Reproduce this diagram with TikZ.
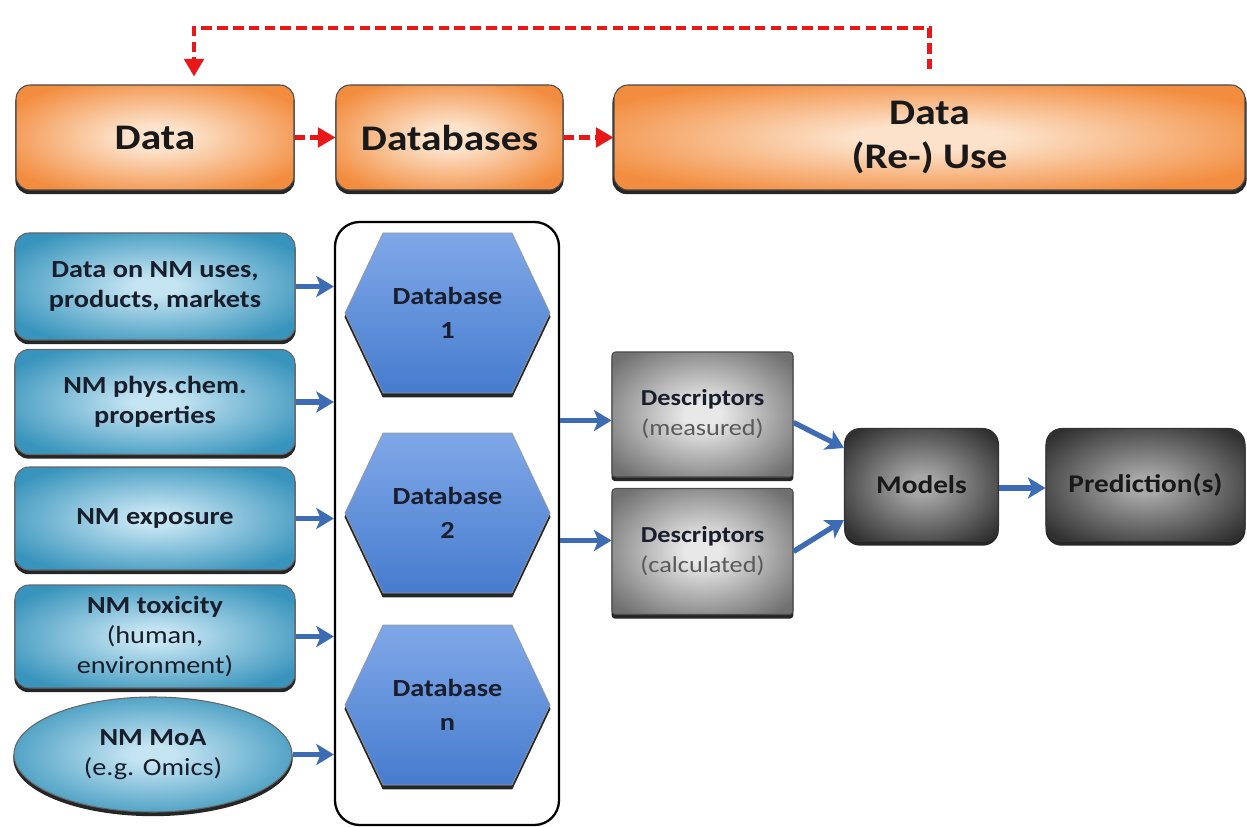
\documentclass[tikz,border=0pt]{standalone}
\usepackage{fontspec}
\setmainfont{Carlito}[FakeStretch=1.15]
\usetikzlibrary{shapes.geometric,shadows,arrows.meta,calc,backgrounds}
\definecolor{orOut}{RGB}{242,140,62}
\definecolor{orIn}{RGB}{252,226,202}
\definecolor{blOut}{RGB}{56,148,188}
\definecolor{blIn}{RGB}{196,228,242}
\definecolor{hxTop}{RGB}{128,168,232}
\definecolor{hxBot}{RGB}{70,124,206}
\definecolor{gyOut}{RGB}{112,112,112}
\definecolor{gyIn}{RGB}{232,232,232}
\definecolor{dkOut}{RGB}{48,48,48}
\definecolor{dkIn}{RGB}{168,168,168}
\definecolor{txt}{RGB}{24,30,44}
\definecolor{arrBlue}{RGB}{62,108,180}
\definecolor{fbRed}{RGB}{232,24,24}
\pgfdeclareradialshading{orShade}{\pgfpoint{0bp}{0bp}}{color(0bp)=(orIn);color(6bp)=(orIn);color(30bp)=(orOut);color(50bp)=(orOut)}
\pgfdeclareradialshading{blShade}{\pgfpoint{0bp}{0bp}}{color(0bp)=(blIn);color(4bp)=(blIn);color(30bp)=(blOut);color(50bp)=(blOut)}
\pgfdeclareradialshading{gyShade}{\pgfpoint{0bp}{0bp}}{color(0bp)=(gyIn);color(5bp)=(gyIn);color(32bp)=(gyOut);color(50bp)=(gyOut)}
\pgfdeclareradialshading{dkShade}{\pgfpoint{0bp}{0bp}}{color(0bp)=(dkIn);color(4bp)=(dkIn);color(32bp)=(dkOut);color(50bp)=(dkOut)}
\def\u{0.02cm}
\begin{document}
\begin{tikzpicture}[x=0.02cm,y=-0.02cm,
  shadowed/.style={drop shadow={shadow xshift=0pt,shadow yshift=-2.2pt,shadow scale=1.005,fill=black!85,opacity=1}},
  topbox/.style={shadowed,rectangle,rounded corners=8pt,draw=black!70,line width=0.6pt,
    shading=orShade,text=black!90,align=center,
    font=\fontsize{20.5}{25}\selectfont\bfseries,minimum height=105*\u},
  srcbox/.style={shadowed,rectangle,rounded corners=8pt,draw=black!60,line width=0.6pt,
    shading=blShade,text=txt,align=center,
    font=\fontsize{14}{17}\selectfont\bfseries,minimum width=280*\u},
  srcell/.style={shadowed,ellipse,draw=black!60,line width=0.6pt,
    shading=blShade,text=txt,align=center,
    font=\fontsize{14}{17}\selectfont\bfseries,minimum width=278*\u,minimum height=115*\u,inner sep=0pt},
  container/.style={rectangle,rounded corners=14pt,draw=black,line width=1.3pt},
  hexfill/.style={shadowed,draw=black!40,line width=0.4pt,top color=hxTop,bottom color=hxBot},
  hextext/.style={text=txt,align=center,font=\fontsize{14}{19}\selectfont\bfseries},
  descbox/.style={shadowed,rectangle,rounded corners=2pt,draw=black!70,line width=0.6pt,
    shading=gyShade,text=txt,align=center,
    font=\fontsize{13}{17}\selectfont,minimum width=181*\u},
  darkbox/.style={shadowed,rectangle,rounded corners=9pt,draw=black!80,line width=0.6pt,
    shading=dkShade,text=black!90,align=center,
    font=\fontsize{14.5}{18}\selectfont\bfseries,minimum height=113*\u},
  bluearrow/.style={draw=arrBlue,line width=3pt,-{Stealth[length=10pt,width=12pt,inset=2.5pt]}},
  reddash/.style={draw=fbRed,line width=2.4pt,dash pattern=on 6pt off 3pt},
  redarrow/.style={reddash,-{Triangle[length=10pt,width=11pt]}}
]
\useasboundingbox (0,0) rectangle (1247,827);

% top row
\node[topbox,minimum width=278*\u] (data) at (155,137.5) {Data};
\node[topbox,minimum width=227*\u] (dbs) at (449.5,137.5) {Databases};
\node[topbox,minimum width=631*\u] (reuse) at (929.5,137.5) {Data\\(Re-) Use};
\draw[redarrow] (data.east) -- (dbs.west);
\draw[redarrow] (dbs.east) -- (reuse.west);
\coordinate (fbR) at ($(reuse.north)+(0,-15)$);
\coordinate (fbL) at ($(data.north)+(39,-8)$);
\coordinate (fbTop) at (0,28);
\draw[redarrow,line cap=butt] (fbR) -- (fbR |- fbTop) -- (fbL |- fbTop) -- (fbL);

% container
\node[container,minimum width=224*\u,minimum height=603*\u] (cont) at (447,523.5) {};

% hexagons
\coordinate (h1) at (447.5,313);
\coordinate (h2) at (447.5,513);
\coordinate (hn) at (447.5,705);
\foreach \h in {h1,h2,hn}{
  \path[hexfill] ($(\h)+(-102.5,0)$) -- ($(\h)+(-64.5,-80)$) -- ($(\h)+(64.5,-80)$)
    -- ($(\h)+(102.5,0)$) -- ($(\h)+(64.5,80)$) -- ($(\h)+(-64.5,80)$) -- cycle;
}
\node[hextext] (t1) at (h1) {Database\\1};
\node[hextext] (t2) at (h2) {Database\\2};
\node[hextext] (tn) at (hn) {Database\\n};

% sources
\node[srcbox,minimum height=107*\u] (b1) at (155,286.5) {Data on NM uses,\\products, markets};
\node[srcbox,minimum height=105*\u] (b2) at (155,402) {NM phys.chem.\\properties};
\node[srcbox,minimum height=103*\u] (b3) at (155,518.5) {NM exposure};
\node[srcbox,minimum height=103*\u] (b4) at (155,636.5) {NM toxicity\\{\mdseries (human,}\\{\mdseries environment)}};
\node[srcell] (b5) at (153,754.5) {NM MoA\\{\mdseries (e.g. Omics)}};
\foreach \b in {b1,b2,b3,b4,b5}{
  \draw[bluearrow] (\b.east) -- (\b.east -| cont.west);
}

% descriptors
\node[descbox,minimum height=125*\u] (d1) at (702.5,414.5) {\textbf{Descriptors}\\{\color{black!65}(measured)}};
\node[descbox,minimum height=126*\u] (d2) at (702.5,551.5) {\textbf{Descriptors}\\{\color{black!65}(calculated)}};
\draw[bluearrow] ($(cont.east |- d1)+(0,6)$) -- ($(d1.west)+(0,6)$);
\draw[bluearrow] ($(cont.east |- d2)+(0,-11)$) -- ($(d2.west)+(0,-11)$);

% models
\node[darkbox,minimum width=154*\u] (models) at (921.5,485) {Models};
\node[darkbox,minimum width=199*\u] (pred) at (1145.5,485) {Prediction(s)};
\draw[bluearrow] ($(d1.east)+(0,8)$) -- ($(models.west)+(0,-37)$);
\draw[bluearrow] ($(d2.east)+(0,0)$) -- ($(models.west)+(0,35)$);
\draw[bluearrow] ($(models.east)+(0,3)$) -- ($(pred.west)+(0,3)$);
\end{tikzpicture}
\end{document}
